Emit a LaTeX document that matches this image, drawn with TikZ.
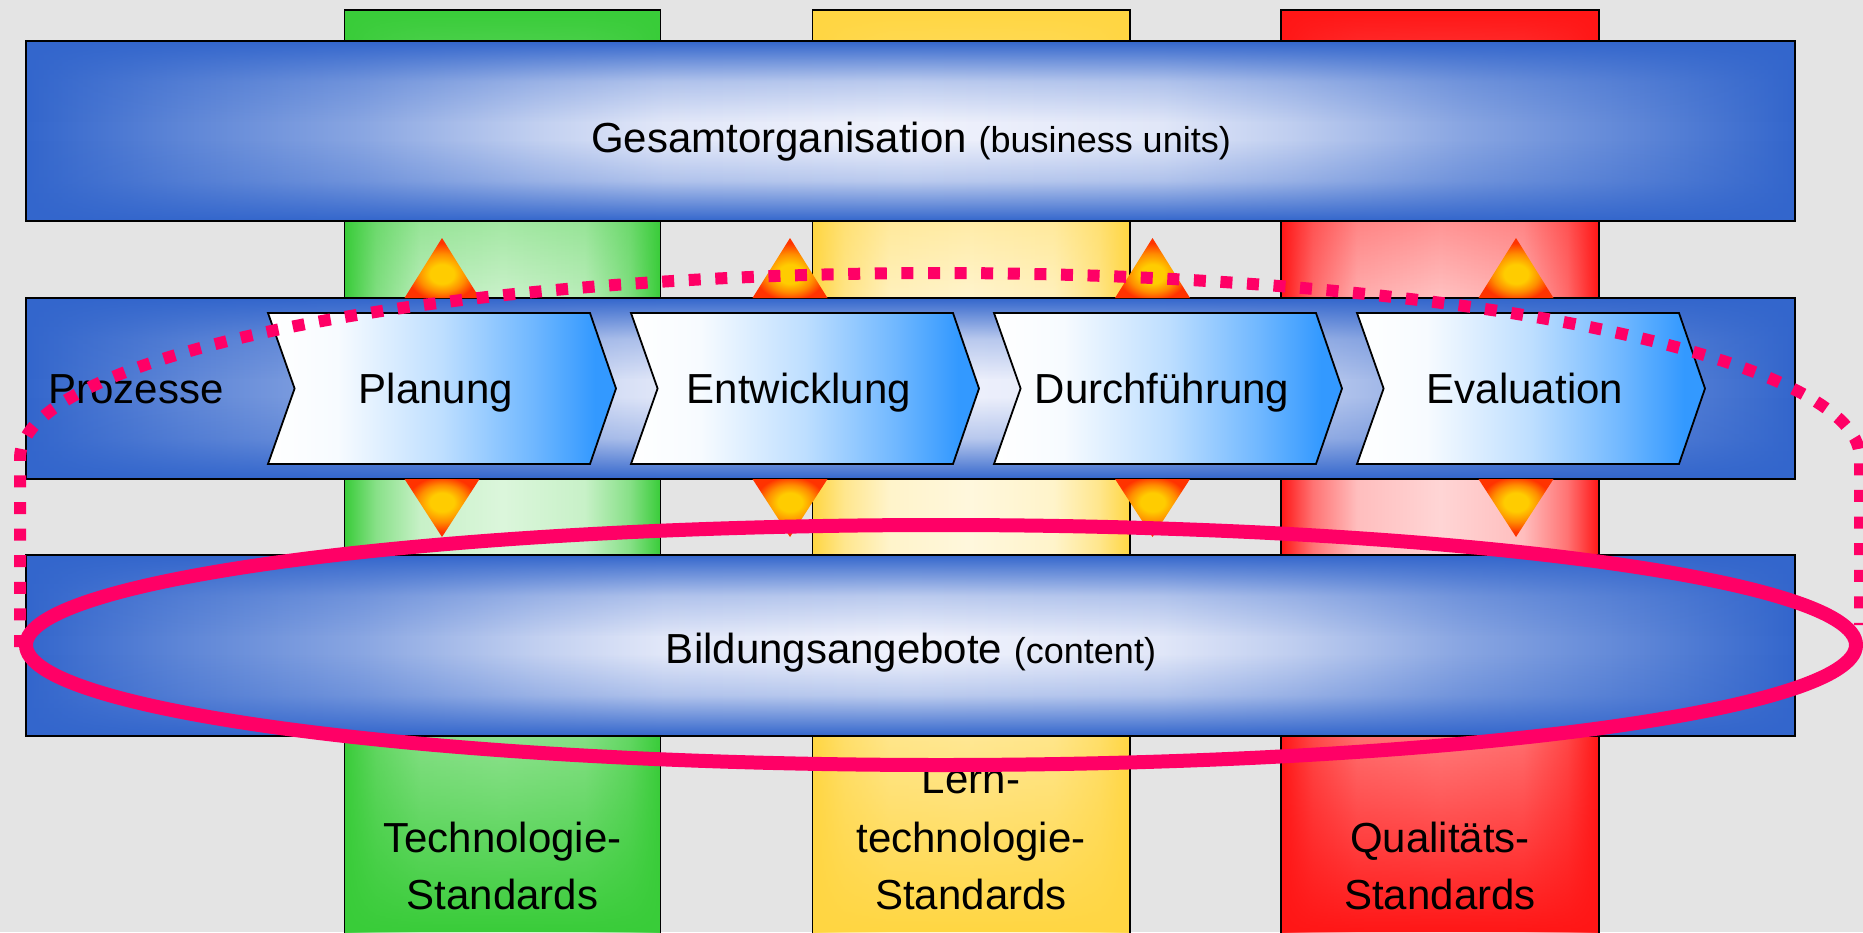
\documentclass[tikz,border=0pt]{standalone}
\usepackage{fontspec}
\setmainfont{Liberation Sans}
\usetikzlibrary{fadings}

% palette
\definecolor{bg}{RGB}{228,228,228}
\definecolor{boxblue}{RGB}{51,102,204}
\definecolor{boxlight}{RGB}{240,242,252}
\definecolor{chevblue}{RGB}{51,153,255}
\definecolor{stdgreen}{RGB}{57,204,57}
\definecolor{stdyellow}{RGB}{255,214,66}
\definecolor{stdred}{RGB}{255,22,22}
\definecolor{loopcol}{RGB}{255,0,102}
\definecolor{triyellow}{RGB}{255,204,0}
\definecolor{triorange}{RGB}{255,140,0}
\definecolor{trired}{RGB}{255,51,0}
\colorlet{colbase}{stdgreen}

% white on the left, blue towards the arrow tip
\pgfdeclarehorizontalshading{chevshade}{100bp}{color(0bp)=(white); color(25bp)=(white); color(35bp)=(white!96!chevblue); color(50bp)=(chevblue!32!white); color(63bp)=(chevblue!70!white); color(72bp)=(chevblue); color(100bp)=(chevblue)}

% blue ends, bright middle
\pgfdeclarehorizontalshading{glassshade}{100bp}{color(0bp)=(boxblue); color(25bp)=(boxblue); color(29.3bp)=(boxblue!78!boxlight); color(34.4bp)=(boxblue!55!boxlight); color(39.4bp)=(boxblue!25!boxlight); color(43bp)=(boxblue!8!boxlight); color(50bp)=(boxlight); color(57bp)=(boxblue!8!boxlight); color(60.6bp)=(boxblue!25!boxlight); color(65.6bp)=(boxblue!55!boxlight); color(70.7bp)=(boxblue!78!boxlight); color(75bp)=(boxblue); color(100bp)=(boxblue)}

% column body: saturated edges, pale middle
\pgfdeclarehorizontalshading[colbase]{colshade}{100bp}{color(0bp)=(colbase); color(25bp)=(colbase); color(30bp)=(colbase!60!white); color(37bp)=(colbase!28!white); color(50bp)=(colbase!18!white); color(63bp)=(colbase!28!white); color(70bp)=(colbase!60!white); color(75bp)=(colbase); color(100bp)=(colbase)}

% glowing triangles, yellow core
\pgfdeclareradialshading{triupshade}{\pgfpoint{0bp}{-6bp}}{color(0bp)=(triyellow); color(8bp)=(triyellow); color(16bp)=(triorange); color(24bp)=(trired); color(50bp)=(trired)}
\pgfdeclareradialshading{tridownshade}{\pgfpoint{0bp}{6bp}}{color(0bp)=(triyellow); color(8bp)=(triyellow); color(16bp)=(triorange); color(24bp)=(trired); color(50bp)=(trired)}

\tikzfading[name=fadedown, top color=transparent!0, bottom color=transparent!100]
\tikzfading[name=fadeup, top color=transparent!100, bottom color=transparent!0]
\tikzfading[name=edgedown, top color=transparent!0, bottom color=transparent!100, middle color=transparent!72]
\tikzfading[name=edgeup, top color=transparent!100, bottom color=transparent!0, middle color=transparent!72]

% vertical standards column: #1 left x, #2 right x, #3 colour
\newcommand\standardcolumn[3]{%
  \colorlet{colbase}{#3}%
  \shade[shading=colshade] (#1,10) rectangle (#2,932);
  \fill[#3, path fading=fadedown] (#1,10) rectangle (#2,330);
  \fill[#3, path fading=fadeup] (#1,560) rectangle (#2,932);
  \draw[colframe] (#1,940) -- (#1,10) -- (#2,10) -- (#2,940);
}

% horizontal glass bar: #1 top y, #2 bottom y
\newcommand\glassbar[2]{%
  \shade[shading=glassshade] (26,#1) rectangle (1795,#2);
  \fill[boxblue, path fading=edgedown] (26,#1) rectangle (1795,{#1+0.45*(#2-#1)});
  \fill[boxblue, path fading=edgeup] (26,{#2-0.45*(#2-#1)}) rectangle (1795,#2);
  \draw[barframe] (26,#1) rectangle (1795,#2);
}

\begin{document}
\begin{tikzpicture}[x=0.5pt, y=-0.5pt,
  bigtxt/.style={font=\fontsize{21}{25}\selectfont, inner sep=0pt, anchor=base},
  colframe/.style={draw=black, line width=0.6pt},
  barframe/.style={draw=black, line width=1pt},
  chevron/.style={shading=chevshade, draw=black, line width=0.9pt},
  loopsolid/.style={draw=loopcol, line width=7pt},
  loopdotted/.style={draw=loopcol, line width=6pt, dash pattern=on 6pt off 7.3pt}]

\useasboundingbox (0,0) rectangle (1863,932);
\fill[bg] (0,0) rectangle (1863,932);

% standards columns
\standardcolumn{344.6}{660.5}{stdgreen}
\standardcolumn{812.7}{1130}{stdyellow}
\standardcolumn{1281}{1599}{stdred}

% organisation, process and content bars
\glassbar{41}{221}
\glassbar{298}{479}
\glassbar{555}{736}

% process chevrons
\foreach \L/\lab/\n in {268/Planung/1, 631/Entwicklung/2, 994/Durchführung/3, 1357/Evaluation/4} {
  \shadedraw[chevron] (\L,313) -- ++(322,0) -- ++(26,75.5) -- ++(-26,75.5) -- ++(-322,0) -- ++(26.6,-75.5) -- cycle;
  \node[bigtxt] (phase\n) at ({\L+168},403) {\lab};
}

% exchange triangles above and below the process bar
\foreach \tx in {442,790,1152.5,1516} {
  \shade[shading=triupshade] ({\tx-37.5},298) -- (\tx,238) -- ({\tx+37.5},298) -- cycle;
  \shade[shading=tridownshade] ({\tx-37.5},479) -- (\tx,537) -- ({\tx+37.5},479) -- cycle;
}

% labels
\node[bigtxt] (org) at (911,152) {Gesamtorganisation {\fontsize{18}{22}\selectfont (business units)}};
\node[bigtxt, anchor=base west] (proc) at (48,403) {Prozesse};
\node[bigtxt] (content) at (911,663) {Bildungsangebote {\fontsize{18}{22}\selectfont (content)}};

\node[bigtxt] (tech1) at (502.5,852) {Technologie-};
\node[bigtxt] (tech2) at (502.5,909) {Standards};
\node[bigtxt] (lern0) at (971,793) {Lern-};
\node[bigtxt] (lern1) at (971,852) {technologie-};
\node[bigtxt] (lern2) at (971,909) {Standards};
\node[bigtxt] (qual1) at (1440,852) {Qualitäts-};
\node[bigtxt] (qual2) at (1440,909) {Standards};

% ring around the content bar
\draw[loopsolid] (941,645) ellipse [x radius=915, y radius=120];

% dotted loop over the processes
\draw[loopdotted] (20,647) -- (20,458)
  -- plot[domain=180:0, samples=120] ({940+920*cos(\x)},{458-185*sin(\x)})
  -- (1860,625);

\end{tikzpicture}
\end{document}
